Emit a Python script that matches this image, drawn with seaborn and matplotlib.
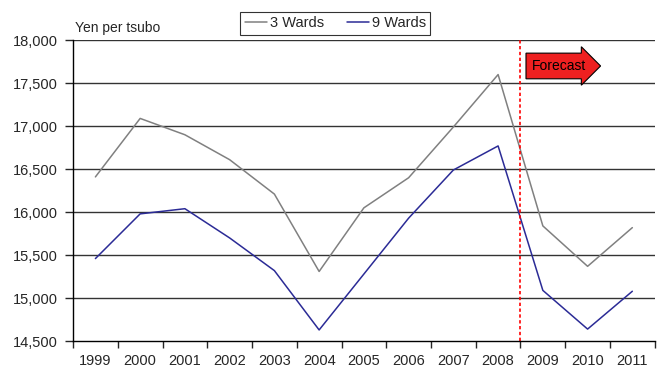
import seaborn as sns
import pandas as pd
import matplotlib.pyplot as plt
import numpy as np
from matplotlib.ticker import FixedLocator, FuncFormatter

years = [1999, 2000, 2001, 2002, 2003, 2004, 2005, 2006, 2007, 2008, 2009, 2010, 2011]
wards3 = [16410, 17090, 16900, 16610, 16210, 15310, 16050, 16400, 16990, 17600, 15840, 15370, 15820]
wards9 = [15460, 15980, 16040, 15700, 15320, 14630, 15280, 15930, 16490, 16770, 15090, 14640, 15080]
series = ["3 Wards", "9 Wards"]

df = pd.DataFrame({
    "idx": list(range(len(years))) * 2,
    "value": wards3 + wards9,
    "series": [series[0]] * len(years) + [series[1]] * len(years),
})

sns.set_style("white")
plt.rcParams['font.family'] = ['Liberation Sans', 'DejaVu Sans']

fig = plt.figure(figsize=(6.58, 3.72), dpi=100)
ax = fig.add_axes([0.111, 0.083, 0.884, 0.809])

sns.lineplot(data=df, x="idx", y="value", hue="series", hue_order=series,
             palette=["#808080", "#2b2b96"], linewidth=1.1, ax=ax)

ax.set_xlim(-0.5, len(years) - 0.5)
ax.set_ylim(14500, 18000)
ax.yaxis.set_major_locator(FixedLocator(np.arange(14500, 18001, 500)))
ax.yaxis.set_major_formatter(FuncFormatter(lambda v, p: f"{int(v):,}"))
ax.set_xticks(range(len(years)))
ax.set_xticklabels([str(y) for y in years])
ax.xaxis.set_minor_locator(FixedLocator(np.arange(-0.5, len(years), 1)))
ax.tick_params(axis="x", which="major", length=0, labelsize=10.5, pad=9)
ax.tick_params(axis="x", which="minor", length=5, width=1, direction="out", bottom=True)
ax.tick_params(axis="y", length=6, width=1, direction="out", left=True, labelsize=10.5, pad=5)
ax.set_xlabel("")
ax.set_ylabel("")

for v in np.arange(15000, 18001, 500):
    ax.axhline(v, color="#333333", linewidth=1, zorder=0)

for s in ["top", "right"]:
    ax.spines[s].set_visible(False)
for s in ["left", "bottom"]:
    ax.spines[s].set_color("black")
    ax.spines[s].set_linewidth(1)

# forecast divider between 2008 and 2009
ax.axvline(9.5, color="red", linestyle=(0, (2, 1.5)), linewidth=1.2)
ax.text(10.36, 17700, "Forecast", fontsize=10, color="black", ha="center", va="center",
        bbox=dict(boxstyle="rarrow,pad=0.42", fc="#ee2020", ec="black", lw=0.8))

ax.text(-0.45, 18060, "Yen per tsubo", fontsize=10, ha="left", va="bottom")

leg = ax.legend(loc="upper center", bbox_to_anchor=(0.451, 1.118), ncol=2, frameon=True,
                fancybox=False, edgecolor="black", fontsize=10.5, handlelength=1.5,
                handletextpad=0.2, columnspacing=1.6, borderpad=0.3)
leg.get_frame().set_linewidth(0.8)

plt.savefig("out.png", dpi=100)
